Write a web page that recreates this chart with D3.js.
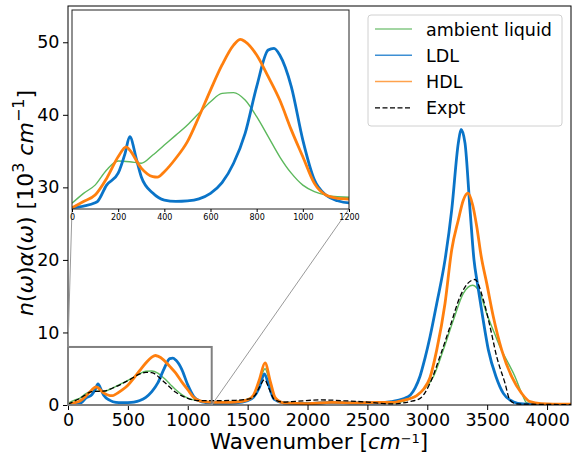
<!DOCTYPE html>
<html>
<head>
<meta charset="utf-8">
<script src="https://cdn.jsdelivr.net/npm/d3@7"></script>
<style>
body { margin: 0; background: #fff; }
svg text { font-family: "DejaVu Sans", sans-serif; }
</style>
</head>
<body>
<div id="chart"></div>
<script>
var WIDTH = 572;
var HEIGHT = 454;

// [wavenumber, value in 10^3 cm^-1]
var ambient = [[0,0.23],[50,0.63],[100,0.96],[150,1.57],[200,1.93],[250,1.9],[300,1.84],[350,2.17],[400,2.57],[450,2.97],[500,3.38],[550,3.85],[600,4.31],[650,4.65],[700,4.68],[750,4.38],[800,3.71],[850,2.91],[900,2.1],[950,1.44],[1000,0.96],[1050,0.7],[1100,0.56],[1150,0.49],[1200,0.47],[1400,0.5],[1500,0.8],[1550,1.3],[1600,3.2],[1645,5.0],[1690,2.8],[1730,0.9],[1800,0.35],[2000,0.3],[2200,0.35],[2400,0.3],[2600,0.3],[2700,0.25],[2850,0.8],[2968,2.07],[3051,3.9],[3134,7.6],[3218,11.7],[3301,15.4],[3379,16.5],[3440,15.4],[3496,12.6],[3551,10.3],[3607,8.0],[3677,5.75],[3733,3.9],[3789,1.6],[3830,0.3],[3914,0.1],[4200,0.05]];

var ldl = [[0,0.05],[50,0.12],[100,0.25],[110,0.3],[150,0.96],[200,1.44],[230,2.24],[250,2.91],[280,1.97],[300,1.3],[350,0.64],[400,0.36],[450,0.31],[500,0.33],[550,0.41],[600,0.63],[650,1.06],[700,1.84],[750,3.04],[800,4.92],[850,6.39],[875,6.46],[900,6.19],[950,4.92],[1000,2.77],[1050,1.17],[1100,0.56],[1150,0.33],[1200,0.25],[1300,0.25],[1400,0.3],[1500,0.6],[1550,1.1],[1600,2.5],[1640,4.3],[1680,2.5],[1720,0.8],[1800,0.3],[2000,0.2],[2200,0.35],[2400,0.3],[2600,0.3],[2700,0.45],[2800,0.85],[2860,1.4],[2900,2.4],[2940,4.0],[2980,6.4],[3023,9.4],[3079,14],[3148,20],[3204,26.9],[3259,36.1],[3282,38.0],[3315,36.1],[3357,26.9],[3390,20],[3418,16.8],[3462,12.2],[3510,7.6],[3574,3.9],[3635,1.6],[3716,0.46],[3800,0.15],[4000,0.05],[4200,0.05]];

var hdl = [[0,0.05],[50,0.3],[100,0.56],[150,1.23],[200,2.1],[235,2.5],[250,2.37],[300,1.64],[350,1.3],[370,1.28],[400,1.5],[450,2.04],[500,2.71],[550,3.71],[600,4.78],[650,5.79],[700,6.59],[730,6.82],[750,6.73],[800,6.19],[850,5.32],[900,4.38],[950,3.18],[1000,2.1],[1050,1.03],[1100,0.56],[1150,0.43],[1200,0.4],[1300,0.35],[1400,0.4],[1500,0.7],[1550,1.4],[1600,3.6],[1645,5.8],[1690,3.2],[1730,1.0],[1800,0.3],[2000,0.2],[2200,0.35],[2400,0.3],[2600,0.35],[2700,0.35],[2800,0.65],[2912,1.3],[2970,2.2],[3023,3.8],[3079,7.6],[3148,14],[3204,21.4],[3259,25.5],[3300,28.2],[3340,29.2],[3380,27.5],[3413,24.6],[3450,20.5],[3496,16.8],[3551,12.2],[3621,7.6],[3705,3.9],[3788,1.6],[3858,0.46],[3950,0.2],[4200,0.1]];

var expt = [[0,0.1],[100,0.92],[200,1.84],[300,1.93],[400,2.53],[500,3.36],[600,4.28],[650,4.5],[700,4.45],[800,3.22],[900,1.75],[1000,0.92],[1100,0.6],[1200,0.6],[1400,0.65],[1500,0.8],[1560,1.3],[1600,2.5],[1640,3.5],[1680,2.2],[1720,0.8],[1800,0.4],[1900,0.5],[2100,0.7],[2300,0.6],[2500,0.4],[2700,0.15],[2850,0.45],[2940,0.92],[3023,3.0],[3106,6.7],[3190,10.8],[3273,14.9],[3340,16.8],[3398,17.3],[3468,14.5],[3524,10.8],[3579,6.7],[3649,3.0],[3690,0.69],[3746,0.15],[4200,0.05]];

var xTicks = [0,500,1000,1500,2000,2500,3000,3500,4000];
var yTicks = [0,10,20,30,40,50];
var insetTicks = [0,200,400,600,800,1000,1200];
var legendNames = ["ambient liquid","LDL","HDL","Expt"];

var GREEN = "#5cb85c", BLUE = "#0a74c8", ORANGE = "#ff7f0e";

var svg = d3.select("#chart").append("svg")
    .attr("width", WIDTH)
    .attr("height", HEIGHT);

// main axes
var x = d3.scaleLinear().domain([0, 4200]).range([68, 571]);
var y = d3.scaleLinear().domain([0, 55]).range([405, 6]);

svg.append("clipPath").attr("id", "clipMain")
    .append("rect").attr("x", 68).attr("y", 6).attr("width", 503).attr("height", 399);

function lineFor(xs, ys) {
    return d3.line()
        .x(function(d) { return xs(d[0]); })
        .y(function(d) { return ys(d[1]); })
        .curve(d3.curveMonotoneX);
}

var mainLine = lineFor(x, y);
var plot = svg.append("g").attr("clip-path", "url(#clipMain)");

plot.append("path").datum(ambient).attr("d", mainLine)
    .attr("fill", "none").attr("stroke", GREEN).attr("stroke-width", 1.4);
plot.append("path").datum(ldl).attr("d", mainLine)
    .attr("fill", "none").attr("stroke", BLUE).attr("stroke-width", 2.8);
plot.append("path").datum(hdl).attr("d", mainLine)
    .attr("fill", "none").attr("stroke", ORANGE).attr("stroke-width", 2.8);
plot.append("path").datum(expt).attr("d", mainLine)
    .attr("fill", "none").attr("stroke", "#000").attr("stroke-width", 1.3)
    .attr("stroke-dasharray", "5,2.5");

// frame
svg.append("rect").attr("x", 68).attr("y", 6).attr("width", 503).attr("height", 399)
    .attr("fill", "none").attr("stroke", "#000").attr("stroke-width", 1);

var fmt = d3.format("d");
var xAxis = svg.append("g").attr("transform", "translate(0,405)")
    .call(d3.axisBottom(x).tickValues(xTicks).tickFormat(fmt).tickSize(5).tickPadding(3.5).tickSizeOuter(0));
var yAxis = svg.append("g").attr("transform", "translate(68,0)")
    .call(d3.axisLeft(y).tickValues(yTicks).tickFormat(fmt).tickSize(5).tickPadding(3.5).tickSizeOuter(0));
[xAxis, yAxis].forEach(function(a) {
    a.select(".domain").remove();
    a.selectAll("text").attr("font-family", "DejaVu Sans").attr("font-size", 17.5).attr("fill", "#000");
    a.selectAll("line").attr("stroke", "#000");
});

// axis labels
var xl = svg.append("text").attr("x", 319).attr("y", 448.5)
    .attr("text-anchor", "middle").attr("font-size", 21.5);
xl.append("tspan").text("Wavenumber [");
xl.append("tspan").attr("font-style", "italic").text("cm");
xl.append("tspan").attr("font-size", 13).attr("dy", -6).text("\u22121");
xl.append("tspan").attr("dy", 6).text("]");

var yl = svg.append("text").attr("transform", "translate(33,203) rotate(-90)")
    .attr("text-anchor", "middle").attr("font-size", 22);
yl.append("tspan").attr("font-style", "italic").text("n");
yl.append("tspan").text("(");
yl.append("tspan").attr("font-style", "italic").text("\u03c9");
yl.append("tspan").text(")");
yl.append("tspan").attr("font-style", "italic").text("\u03b1");
yl.append("tspan").text("(");
yl.append("tspan").attr("font-style", "italic").text("\u03c9");
yl.append("tspan").text(") [10");
yl.append("tspan").attr("font-size", 16).attr("dy", -9).text("3");
yl.append("tspan").attr("dy", 9).text(" ");
yl.append("tspan").attr("font-style", "italic").text("cm");
yl.append("tspan").attr("font-size", 16).attr("dy", -9).text("\u22121");
yl.append("tspan").attr("dy", 9).text("]");

// zoom marker
var xi = d3.scaleLinear().domain([0, 1200]).range([72, 349]);
var yi = d3.scaleLinear().domain([0, 8]).range([209, 10]);

svg.append("rect").attr("x", x(0)).attr("y", y(8))
    .attr("width", x(1200) - x(0)).attr("height", y(0) - y(8))
    .attr("fill", "none").attr("stroke", "#808080").attr("stroke-width", 2);
svg.append("line").attr("x1", x(0)).attr("y1", y(8)).attr("x2", xi(0)).attr("y2", yi(0))
    .attr("stroke", "#999").attr("stroke-width", 1);
svg.append("line").attr("x1", x(1200)).attr("y1", y(0)).attr("x2", xi(1200)).attr("y2", yi(0))
    .attr("stroke", "#999").attr("stroke-width", 1);

// legend
var legend = svg.append("g");
legend.append("rect").attr("x", 368).attr("y", 15).attr("width", 194).attr("height", 111)
    .attr("rx", 3).attr("fill", "#fff").attr("fill-opacity", 0.8)
    .attr("stroke", "#d0d0d0").attr("stroke-width", 1);
var legendColors = ["#85c985", "#3d8fd4", "#ffa24d", "#000"];
legendNames.forEach(function(name, i) {
    var ly = 29 + i * 26.3;
    legend.append("line").attr("x1", 375).attr("x2", 412).attr("y1", ly).attr("y2", ly)
        .attr("stroke", legendColors[i]).attr("stroke-width", i == 3 ? 1.3 : 1.5)
        .attr("stroke-dasharray", i == 3 ? "5,2.5" : null);
    legend.append("text").attr("x", 426).attr("y", ly + 6.5)
        .attr("font-size", 17.5).text(name);
});

// inset
var inset = svg.append("g");
inset.append("rect").attr("x", 72).attr("y", 10).attr("width", 277).attr("height", 199)
    .attr("fill", "#fff");
svg.append("clipPath").attr("id", "clipInset")
    .append("rect").attr("x", 72).attr("y", 10).attr("width", 277).attr("height", 199);
var insetLine = lineFor(xi, yi);
var ip = inset.append("g").attr("clip-path", "url(#clipInset)");
ip.append("path").datum(ambient.filter(function(d) { return d[0] <= 1400; })).attr("d", insetLine)
    .attr("fill", "none").attr("stroke", GREEN).attr("stroke-width", 1.4);
ip.append("path").datum(ldl.filter(function(d) { return d[0] <= 1400; })).attr("d", insetLine)
    .attr("fill", "none").attr("stroke", BLUE).attr("stroke-width", 2.8);
ip.append("path").datum(hdl.filter(function(d) { return d[0] <= 1400; })).attr("d", insetLine)
    .attr("fill", "none").attr("stroke", ORANGE).attr("stroke-width", 2.8);
inset.append("rect").attr("x", 72).attr("y", 10).attr("width", 277).attr("height", 199)
    .attr("fill", "none").attr("stroke", "#222").attr("stroke-width", 1);

var ia = inset.append("g").attr("transform", "translate(0,209)")
    .call(d3.axisBottom(xi).tickValues(insetTicks).tickFormat(fmt).tickSize(3).tickPadding(2).tickSizeOuter(0));
ia.select(".domain").remove();
ia.selectAll("text").attr("font-family", "DejaVu Sans").attr("font-size", 8).attr("fill", "#000");
ia.selectAll("line").attr("stroke", "#000");
</script>
</body>
</html>
